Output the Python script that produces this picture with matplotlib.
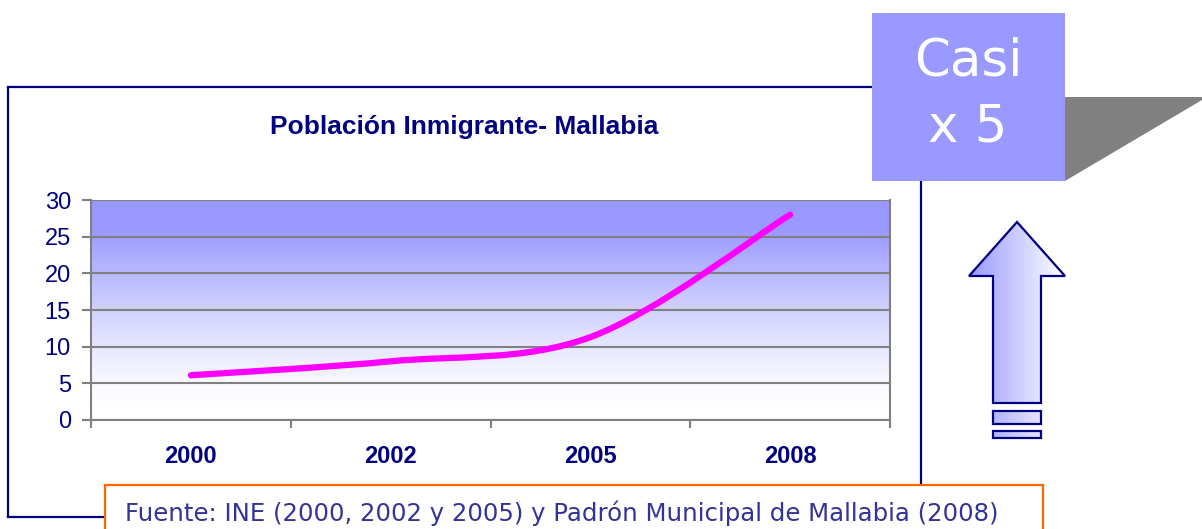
import numpy as np
import matplotlib
matplotlib.use("Agg")
from matplotlib import pyplot as plt
from matplotlib.path import Path
from matplotlib.patches import PathPatch, Polygon, Rectangle

# data
years = ['2000', '2002', '2005', '2008']
poblacion = [6.1, 8.0, 11.3, 28.0]
yticks = [0, 5, 10, 15, 20, 25, 30]

title = 'Población Inmigrante- Mallabia'
fuente = 'Fuente: INE (2000, 2002 y 2005) y Padrón Municipal de Mallabia (2008)'
badge = ['Casi', 'x 5']

W, H = 1202, 529
NAVY = '#000080'
BLUE = np.array([153, 153, 255]) / 255.0
WHITE = np.array([1.0, 1.0, 1.0])


def smoothPath(xs, ys):
  # Excel-like smoothed line: Catmull-Rom segments turned into cubic beziers
  pts = np.column_stack([xs, ys])
  verts = [pts[0]]
  codes = [Path.MOVETO]
  for i in range(len(pts) - 1):
    p0 = pts[max(i - 1, 0)]
    p1 = pts[i]
    p2 = pts[i + 1]
    p3 = pts[min(i + 2, len(pts) - 1)]
    verts += [p1 + (p2 - p0) / 6.0, p2 - (p3 - p1) / 6.0, p2]
    codes += [Path.CURVE4] * 3
  return Path(verts, codes)


fig = plt.figure(figsize=(W / 100.0, H / 100.0), dpi=100)

# page layer in pixel coordinates
ax0 = fig.add_axes([0, 0, 1, 1])
ax0.set_xlim(0, W)
ax0.set_ylim(H, 0)
ax0.axis('off')

# outer navy frame
ax0.plot([8, 872], [87, 87], color=NAVY, lw=1.6)
ax0.plot([8, 8], [87, 517], color=NAVY, lw=1.6)
ax0.plot([8, 105], [517, 517], color=NAVY, lw=1.6)
ax0.plot([921, 921], [175, 486], color=NAVY, lw=1.6)

# grey wedge and "Casi x 5" badge
ax0.add_patch(Polygon([[1060, 97], [1202, 97], [1202, 100], [1065, 181], [1060, 181]],
                      closed=True, facecolor='#808080', edgecolor='none', zorder=2))
ax0.add_patch(Rectangle((872, 13), 193, 168, facecolor='#9999FF', edgecolor='none', zorder=3))
ax0.text(968, 76, badge[0], color='white', fontsize=37, ha='center', va='baseline',
         family='DejaVu Sans', zorder=4)
ax0.text(968, 142, badge[1], color='white', fontsize=37, ha='center', va='baseline',
         family='DejaVu Sans', zorder=4)

# up arrow with horizontal gradient
arrow = [[993, 403], [993, 276], [969, 276], [1017, 222], [1065, 276],
         [1041, 276], [1041, 403]]
bars = [[[993, 411], [1041, 411], [1041, 424], [993, 424]],
        [[993, 431], [1041, 431], [1041, 438], [993, 438]]]
grad = np.linspace(0, 1, 256)
hgrad = (BLUE[None, :] + (WHITE - BLUE)[None, :] * grad[:, None])[None, :, :]
for shape in [arrow] + bars:
  patch = Polygon(shape, closed=True, facecolor='none', edgecolor=NAVY, lw=1.6, zorder=3)
  ax0.add_patch(patch)
  im = ax0.imshow(hgrad, extent=(969, 1065, 440, 220), aspect='auto', zorder=2,
                  interpolation='bilinear')
  im.set_clip_path(patch)
ax0.set_xlim(0, W)
ax0.set_ylim(H, 0)

# source box
ax0.add_patch(Rectangle((105, 485), 938, 60, facecolor='white', edgecolor='#FF6600',
                        lw=1.6, zorder=3))
ax0.text(125, 521, fuente, color='#333399', fontsize=17.6, ha='left', va='baseline',
         family='DejaVu Sans', zorder=4)

# title
fig.text(464 / W, 1 - 127 / H, title, color=NAVY, fontsize=19, fontweight='bold',
         ha='center', va='center', family='Liberation Sans')

# chart
ax = fig.add_axes([91 / W, 1 - 420 / H, 799 / W, 220 / H])
ax.set_zorder(1)
yy = np.linspace(0, 30, 300)
f = np.clip((yy - 2) / 24.0, 0, 1) ** 1.3
vgrad = (WHITE[None, :] + (BLUE - WHITE)[None, :] * f[:, None])[:, None, :]
ax.imshow(vgrad, extent=(0, 4, 0, 30), origin='lower', aspect='auto', zorder=0,
          interpolation='bilinear')

xs = np.arange(len(years)) + 0.5
ax.add_patch(PathPatch(smoothPath(xs, poblacion), facecolor='none', edgecolor='#FF00FF',
                       lw=4.5, capstyle='round', joinstyle='round', zorder=3))

ax.set_xlim(0, 4)
ax.set_ylim(0, 30)
ax.set_yticks(yticks)
ax.set_yticklabels([str(v) for v in yticks])
ax.set_xticks(np.arange(0, 5))
ax.set_xticklabels([])
ax.set_xticks(xs, minor=True)
ax.set_xticklabels(years, minor=True, fontweight='bold', color=NAVY, fontsize=17,
                   family='Liberation Sans')
ax.tick_params(axis='x', which='minor', length=0, pad=18)
ax.tick_params(axis='x', which='major', length=6, width=1.5, color='#808080', direction='out')
ax.tick_params(axis='y', length=6.5, width=1.5, color='#808080', labelcolor=NAVY,
               labelsize=17, pad=8)
for lab in ax.get_yticklabels():
  lab.set_family('Liberation Sans')
ax.grid(axis='y', color='#808080', lw=1.5)
ax.set_axisbelow(False)
for s in ax.spines.values():
  s.set_color('#808080')
  s.set_linewidth(1.5)
ax.spines['top'].set_visible(False)

fig.savefig('out.png', dpi=100)
